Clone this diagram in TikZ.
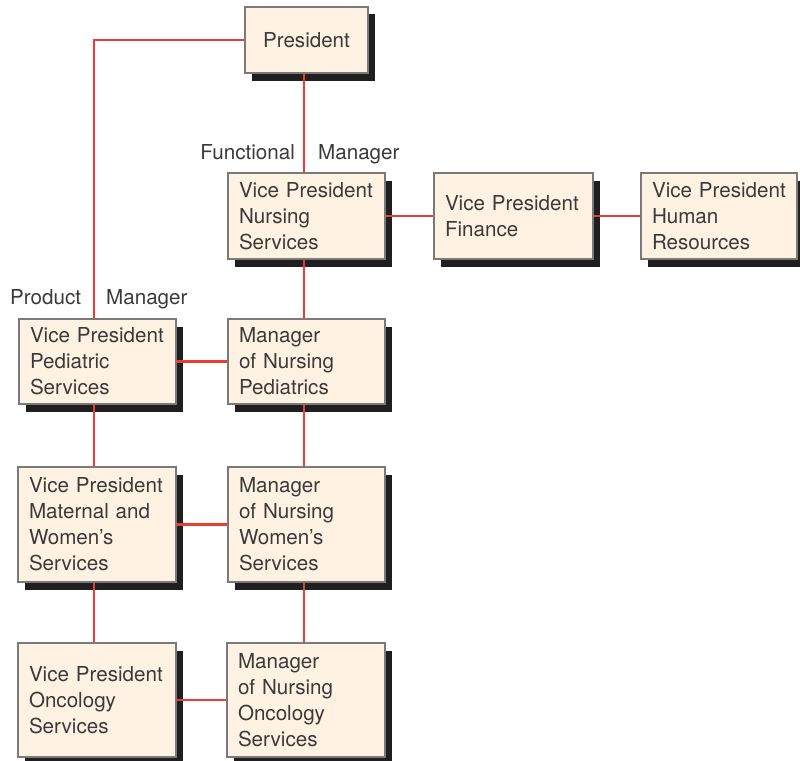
\documentclass[tikz,border=0pt]{standalone}
\usepackage{fontspec}
\setmainfont{TeX Gyre Heros}
\usetikzlibrary{shadows}
\definecolor{boxfill}{HTML}{FFF2E2}
\definecolor{boxline}{HTML}{7A7A7A}
\definecolor{txt}{HTML}{3A3A3A}
\definecolor{linkred}{HTML}{EE3B34}
\hyphenpenalty=10000
\exhyphenpenalty=10000
\begin{document}
\begin{tikzpicture}[x=1pt,y=-1pt,
  every node/.style={font=\fontsize{20.6}{26}\selectfont, text=txt},
  orgbox/.style={draw=boxline, line width=1.4pt, fill=boxfill,
    drop shadow={shadow xshift=6.5pt, shadow yshift=-7.5pt, fill=black!88, opacity=1},
    inner xsep=11pt, inner ysep=0pt, align=left},
  link/.style={draw=linkred, line width=2.2pt},
  lbl/.style={inner sep=0pt}]
\useasboundingbox (0,0) rectangle (800,760);
\node[orgbox, minimum width=123pt, minimum height=66pt, align=center, inner xsep=0pt, text width=123pt] (pres) at (306.5,40) {President};
\node[orgbox, text width=135pt, minimum height=86pt] (vpn) at (306.5,216) {Vice President\\Nursing\\Services};
\node[orgbox, text width=137pt, minimum height=86pt] (vpf) at (513.5,216) {Vice President\\Finance};
\node[orgbox, text width=134pt, minimum height=86pt] (vphr) at (719,216) {Vice President\\Human\\Resources};
\node[orgbox, text width=135pt, minimum height=85pt] (vpp) at (97.5,361.5) {Vice President\\Pediatric\\Services};
\node[orgbox, text width=135pt, minimum height=85pt] (mnp) at (306.5,361.5) {Manager\\of Nursing\\Pediatrics};
\node[orgbox, text width=136pt, minimum height=115pt] (vpm) at (97,524.5) {Vice President\\Maternal and\\Women’s\\Services};
\node[orgbox, text width=135pt, minimum height=115pt] (mnw) at (306.5,524.5) {Manager\\of Nursing\\Women’s\\Services};
\node[orgbox, text width=136pt, minimum height=114pt] (vpo) at (97,700) {Vice President\\Oncology\\Services};
\node[orgbox, text width=136pt, minimum height=114pt] (mno) at (306,700) {Manager\\of Nursing\\Oncology\\Services};
% labels
\node[lbl, anchor=base east] (lfun) at (295,159) {Functional};
\node[lbl, anchor=base west] (lfman) at (318,159) {Manager};
\node[lbl, anchor=base west] (lprod) at (10,304) {Product};
\node[lbl, anchor=base west] (lpman) at (106,304) {Manager};
% connectors
\draw[link] (pres.west) -| ([xshift=-3.5pt]vpp.north);
\draw[link] ([xshift=-2.5pt]pres.south) -- ([xshift=-2.5pt]vpn.north);
\draw[link] (vpn.east) -- (vpf.west);
\draw[link] (vpf.east) -- (vphr.west);
\draw[link] ([xshift=-2.5pt]vpn.south) -- ([xshift=-2.5pt]mnp.north);
\draw[link] (vpp.east) -- (mnp.west);
\draw[link] ([xshift=-3.5pt]vpp.south) -- ([xshift=-3pt]vpm.north);
\draw[link] ([xshift=-2.5pt]mnp.south) -- ([xshift=-2.5pt]mnw.north);
\draw[link] (vpm.east) -- (mnw.west);
\draw[link] ([xshift=-3pt]vpm.south) -- ([xshift=-3pt]vpo.north);
\draw[link] ([xshift=-2.5pt]mnw.south) -- ([xshift=-2pt]mno.north);
\draw[link] (vpo.east) -- (mno.west);
\end{tikzpicture}
\end{document}
